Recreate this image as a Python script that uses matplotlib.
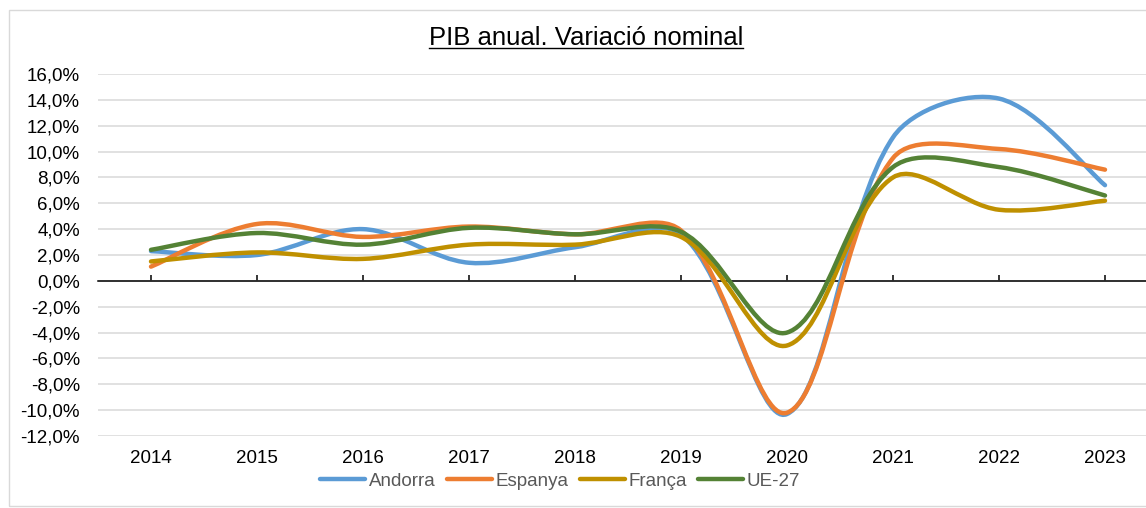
import numpy as np
import matplotlib.pyplot as plt
from matplotlib.path import Path
from matplotlib.patches import PathPatch, Rectangle
from matplotlib.lines import Line2D

plt.rcParams['font.family'] = ['Liberation Sans', 'DejaVu Sans']

years = ['2014', '2015', '2016', '2017', '2018', '2019', '2020', '2021', '2022', '2023']
andorra = [2.3, 2.0, 4.0, 1.4, 2.6, 3.6, -10.3, 11.1, 14.1, 7.4]
espanya = [1.1, 4.4, 3.4, 4.2, 3.6, 3.9, -10.2, 9.5, 10.2, 8.6]
franca = [1.5, 2.2, 1.7, 2.8, 2.8, 3.4, -5.0, 8.0, 5.5, 6.2]
ue27 = [2.4, 3.7, 2.8, 4.1, 3.6, 3.8, -4.0, 8.8, 8.8, 6.6]

names = ['Andorra', 'Espanya', 'França', 'UE-27']
colors = ['#5B9BD5', '#ED7D31', '#BF9000', '#548235']
y_ticks = np.arange(-12, 17, 2)


def smooth_path(vals, sx, sy):
    # Excel-like smoothed line: tangents from neighbours, control
    # lengths weighted by the on-screen chord lengths
    pts = np.column_stack([np.arange(len(vals), dtype=float), np.asarray(vals, dtype=float)])
    scr = pts * [sx, sy]
    n = len(pts)
    c_in, c_out = [None] * n, [None] * n
    for i in range(n):
        prev_i, next_i = max(i - 1, 0), min(i + 1, n - 1)
        tan = pts[next_i] - pts[prev_i]
        d_prev = np.hypot(*(scr[i] - scr[prev_i]))
        d_next = np.hypot(*(scr[next_i] - scr[i]))
        if i == 0 or i == n - 1:
            c_out[i] = pts[i] + tan / 6
            c_in[i] = pts[i] - tan / 6
            continue
        tot = d_prev + d_next
        c_out[i] = pts[i] + tan * (d_next / tot) / 3
        c_in[i] = pts[i] - tan * (d_prev / tot) / 3
    verts = [pts[0]]
    codes = [Path.MOVETO]
    for i in range(n - 1):
        verts += [c_out[i], c_in[i + 1], pts[i + 1]]
        codes += [Path.CURVE4] * 3
    return Path(verts, codes)


W, H = 1146, 508
ax_w, ax_h = 1060, 362
fig = plt.figure(figsize=(W / 100, H / 100), dpi=100)
ax = fig.add_axes([98 / W, (H - 436) / H, ax_w / W, ax_h / H])

sx = ax_w / len(years)
sy = ax_h / 28
for vals, c in zip([andorra, espanya, franca, ue27], colors):
    ax.add_patch(PathPatch(smooth_path(vals, sx, sy), fill=False, edgecolor=c, lw=3.2,
                           capstyle='round', joinstyle='round', zorder=3))

ax.set_xlim(-0.5, len(years) - 0.5)
ax.set_ylim(-12, 16)
ax.set_yticks(y_ticks)
ax.set_yticklabels([f"{v:.1f}%".replace('.', ',') for v in y_ticks])
ax.tick_params(axis='y', length=0, pad=13, labelsize=13.5)
ax.grid(axis='y', color='#D9D9D9', lw=1.1)
ax.set_axisbelow(True)

for s in ['left', 'right', 'top']:
    ax.spines[s].set_visible(False)
ax.spines['bottom'].set_position(('data', 0))
ax.spines['bottom'].set_color('black')
ax.spines['bottom'].set_linewidth(1.1)
ax.set_xticks(range(len(years)))
ax.tick_params(axis='x', direction='in', length=4, width=1.1, labelbottom=False)

sec = ax.secondary_xaxis(0.0)
sec.set_xticks(range(len(years)))
sec.set_xticklabels(years)
sec.tick_params(length=0, pad=10, labelsize=13.5)
sec.spines['bottom'].set_visible(False)

handles = [Line2D([], [], color=c, lw=3.2, solid_capstyle='round') for c in colors]
leg = fig.legend(handles, names, loc='center', bbox_to_anchor=(560 / W, 1 - 481 / H),
                 ncol=4, frameon=False, fontsize=13.5, handlelength=2.4,
                 handletextpad=0.2, columnspacing=0.6)
for t in leg.get_texts():
    t.set_color('#595959')

title = fig.text(586 / W, 1 - 38 / H, 'PIB anual. Variació nominal', ha='center',
                 va='center', fontsize=18.5, color='black')

# underline the title
fig.canvas.draw()
bb = title.get_window_extent().transformed(fig.transFigure.inverted())
fig.add_artist(Line2D([bb.x0, bb.x1], [bb.y0 + 0.004, bb.y0 + 0.004], color='black',
                      lw=1, transform=fig.transFigure))

fig.add_artist(Rectangle((8.5 / W, 2 / H), 1.0, 1 - 12 / H, transform=fig.transFigure,
                         fill=False, edgecolor='#D9D9D9', lw=1))

fig.savefig('out.png', dpi=100)
